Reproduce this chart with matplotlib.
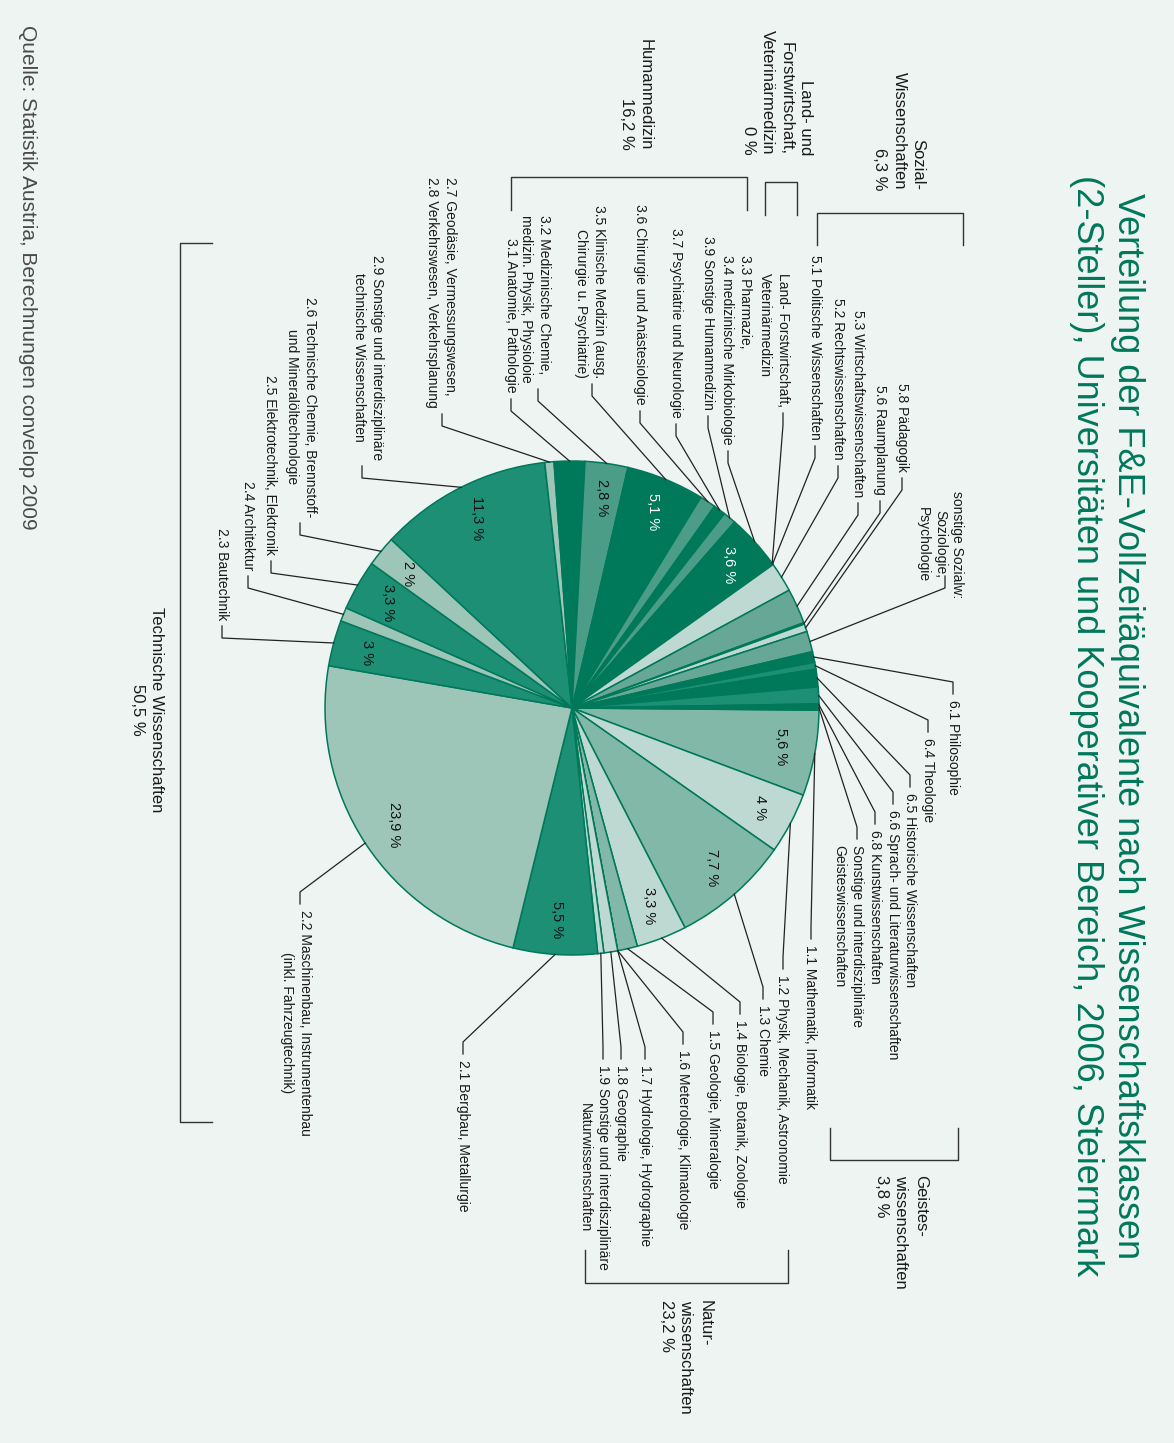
import numpy as np
import matplotlib.pyplot as plt

plt.rcParams['font.family'] = ['Liberation Sans', 'DejaVu Sans']

# --- Daten: Anteile der Wissenschaftsklassen (2-Steller) in %, im Uhrzeigersinn ab 1.1 ---
klassen = ["1.1", "1.2", "1.3", "1.4", "1.5", "1.6", "1.7", "1.8", "1.9",
           "2.1", "2.2", "2.3", "2.4", "2.5", "2.6", "2.9", "2.7/2.8",
           "3.1", "3.2", "3.5", "3.6", "3.7", "3.9", "3.3/3.4",
           "4",
           "5.1", "5.2", "5.3", "5.6", "5.8", "5.x",
           "6.1", "6.4", "6.5", "6.6", "6.8", "6.x"]
anteile = [5.6, 4.0, 7.7, 3.3, 1.3, 0.0, 0.0, 0.9, 0.4,
           5.5, 23.9, 3.0, 0.9, 3.3, 2.0, 11.3, 0.6,
           2.0, 2.8, 5.1, 1.05, 0.8, 0.85, 3.6,
           0.0,
           0.1, 1.95, 2.3, 0.1, 0.5, 1.35,
           0.7, 0.45, 1.15, 1.1, 0.1, 0.3]

# Klassen mit Prozentangabe im Segment
mit_prozent = ["1.1", "1.2", "1.3", "1.4", "2.1", "2.2", "2.3", "2.5", "2.6",
               "2.9", "3.2", "3.5", "3.3/3.4"]

# Hauptgruppen (1-Steller)
gruppen = ["Sozial-\nWissenschaften", "Land- und\nForstwirtschaft,\nVeterinärmedizin",
           "Humanmedizin", "Technische Wissenschaften", "Geistes-\nwissenschaften",
           "Natur-\nwissenschaften"]
gruppen_anteil = [6.3, 0, 16.2, 50.5, 3.8, 23.2]

# Beschriftungen der Klassen
beschriftung = {
    "1.1": "1.1 Mathematik, Informatik",
    "1.2": "1.2 Physik, Mechanik, Astronomie",
    "1.3": "1.3 Chemie",
    "1.4": "1.4 Biologie, Botanik, Zoologie",
    "1.5": "1.5 Geologie, Mineralogie",
    "1.6": "1.6 Meterologie, Klimatologie",
    "1.7": "1.7 Hydrologie, Hydrographie",
    "1.8": "1.8 Geographie",
    "1.9": "1.9 Sonstige und interdisziplinäre\nNaturwissenschaften",
    "2.1": "2.1 Bergbau, Metallurgie",
    "2.2": "2.2 Maschinenbau, Instrumentenbau\n(inkl. Fahrzeugtechnik)",
    "2.3": "2.3 Bautechnik",
    "2.4": "2.4 Architektur",
    "2.5": "2.5 Elektrotechnik, Elektronik",
    "2.6": "2.6 Technische Chemie, Brennstoff-\nund Mineralöltechnologie",
    "2.9": "2.9 Sonstige und interdisziplinäre\ntechnische Wissenschaften",
    "2.7/2.8": "2.7 Geodäsie, Vermessungswesen,\n2.8 Verkehrswesen, Verkehrsplanung",
    "3.1": "3.1 Anatomie, Pathologie",
    "3.2": "3.2 Medizinische Chemie,\nmedizin. Physik, Physioloie",
    "3.5": "3.5 Klinische Medizin (ausg.\nChirurgie u. Psychiatrie)",
    "3.6": "3.6 Chirurgie und Anästesiologie",
    "3.7": "3.7 Psychiatrie und Neurologie",
    "3.9": "3.9 Sonstige Humanmedizin",
    "3.3/3.4": "3.3 Pharmazie,\n3.4 medizinische Mirkobiologie",
    "4": "Land- Forstwirtschaft,\nVeterinärmedizin",
    "5.1": "5.1 Politische Wissenschaften",
    "5.2": "5.2 Rechtswissenschaften",
    "5.3": "5.3 Wirtschaftswissenschaften",
    "5.6": "5.6 Raumplanung",
    "5.8": "5.8 Pädagogik",
    "5.x": "sonstige Sozialw:\nSoziologie,\nPsychologie",
    "6.1": "6.1 Philosophie",
    "6.4": "6.4 Theologie",
    "6.5": "6.5 Historische Wissenschaften",
    "6.6": "6.6 Sprach- und Literaturwissenschaften",
    "6.8": "6.8 Kunstwissenschaften",
    "6.x": "Sonstige und interdisziplinäre\nGeisteswissenschaften",
}

# --- Farben ---
DUNKEL = "#00795b"
MITTEL_D = "#1c8f74"
MITTEL = "#4b9d87"
MITTEL_H = "#66a895"
HELL = "#9dc5b8"
HELL_B = "#82b8a8"
SEHR_HELL = "#bdd9d1"
farben = [HELL_B, SEHR_HELL, HELL_B, SEHR_HELL, HELL_B, SEHR_HELL, SEHR_HELL, SEHR_HELL, SEHR_HELL,
          MITTEL_D, HELL, MITTEL_D, HELL, MITTEL_D, HELL, MITTEL_D, HELL,
          DUNKEL, MITTEL, DUNKEL, MITTEL, DUNKEL, MITTEL, DUNKEL,
          DUNKEL,
          SEHR_HELL, SEHR_HELL, MITTEL_H, MITTEL_H, SEHR_HELL, MITTEL_H,
          DUNKEL, MITTEL_D, DUNKEL, MITTEL_D, MITTEL_D, DUNKEL]

GRUEN = "#00785a"
BG = "#edf4f2"
LINIE = "#222222"

W, H = 1174, 1443
CX, CY, R = 572, 708, 247

fig = plt.figure(figsize=(W / 100, H / 100), dpi=100, facecolor=BG)
ax = fig.add_axes([0, 0, 1, 1])
ax.set_facecolor(BG)

wedges, _ = ax.pie(anteile, colors=farben, startangle=0.5, counterclock=True,
                   center=(CX, CY), radius=R,
                   wedgeprops=dict(edgecolor=GRUEN, linewidth=1.1))
ax.set_xlim(0, W)
ax.set_ylim(H, 0)
ax.set_aspect("auto")
ax.axis("off")


def punkt(k, r):
    w = wedges[klassen.index(k)]
    t = np.deg2rad((w.theta1 + w.theta2) / 2)
    return CX + r * np.cos(t), CY + r * np.sin(t)


# Prozentangaben in den Segmenten
for k in mit_prozent:
    v = anteile[klassen.index(k)]
    txt = f"{v:g}".replace(".", ",") + " %"
    x, y = punkt(k, R * 0.86)
    col = "white" if farben[klassen.index(k)] == DUNKEL else "#111111"
    ax.text(x, y, txt, rotation=-90, ha="center", va="center", fontsize=10.5, color=col)

# Lage der Beschriftungen: (x Mitte, y Anfang/Ende, Art, Ausrichtung, x Haken, Abstand Haken)
lage = {
    "2.7/2.8": (441, 408, "ende", "left", 442, 6),
    "3.1": (511, 393, "ende", "left", 511, 6),
    "3.2": (535, 383, "ende", "left", 538, 6),
    "3.5": (590, 378, "ende", "right", 592, 6),
    "3.6": (640, 405, "ende", "left", 640, 6),
    "3.7": (676, 418, "ende", "left", 676, 6),
    "3.9": (708, 410, "ende", "left", 708, 6),
    "3.3/3.4": (736, 445, "ende", "left", 728, 6),
    "4": (774, 407, "ende", "left", 783, 6),
    "5.1": (815, 440, "ende", "left", 815, 6),
    "5.2": (838, 460, "ende", "left", 838, 6),
    "5.3": (858, 497, "ende", "left", 858, 6),
    "5.6": (880, 495, "ende", "left", 880, 6),
    "5.8": (902, 472, "ende", "left", 902, 6),
    "5.x": (940, 598, "ende", "center", 945, -22),
    "2.3": (222, 620, "ende", "left", 222, 6),
    "2.4": (248, 570, "ende", "left", 248, 6),
    "2.5": (270, 555, "ende", "left", 271, 6),
    "2.6": (301, 517, "ende", "center", 300, 6),
    "2.9": (368, 460, "ende", "center", 362, 6),
    "6.1": (953, 700, "anfang", "left", 953, 6),
    "6.4": (928, 738, "anfang", "left", 928, 6),
    "6.5": (910, 793, "anfang", "left", 910, 6),
    "6.6": (893, 810, "anfang", "left", 893, 6),
    "6.8": (875, 830, "anfang", "left", 875, 6),
    "6.x": (848, 845, "anfang", "left", 857, 6),
    "1.1": (810, 945, "anfang", "left", 811, 6),
    "1.2": (782, 975, "anfang", "left", 783, 6),
    "1.3": (763, 1005, "anfang", "left", 763, 6),
    "1.4": (740, 1020, "anfang", "left", 740, 6),
    "1.5": (713, 1030, "anfang", "left", 713, 6),
    "1.6": (683, 1050, "anfang", "left", 683, 6),
    "1.7": (645, 1065, "anfang", "left", 645, 6),
    "1.8": (621, 1065, "anfang", "left", 621, 6),
    "1.9": (594, 1065, "anfang", "center", 603, 6),
    "2.1": (463, 1060, "anfang", "left", 463, 6),
    "2.2": (296, 910, "anfang", "center", 300, 6),
}

for k, (x, y, art, ma, hx, d) in lage.items():
    px, py = punkt(k, R)
    if art == "ende":
        ax.text(x, y, beschriftung[k], rotation=-90, ha="center", va="bottom",
                multialignment=ma, fontsize=10, linespacing=1.3, color="#1a1a1a")
        ax.plot([hx, hx, px], [y + d, y + d + 12, py], color=LINIE, lw=0.9)
    else:
        ax.text(x, y, beschriftung[k], rotation=-90, ha="center", va="top",
                multialignment=ma, fontsize=10, linespacing=1.3, color="#1a1a1a")
        ax.plot([px, hx, hx], [py, y - d - 12, y - d], color=LINIE, lw=0.9)

# Gruppen-Beschriftungen
def gtext(i):
    return gruppen[i] + "\n" + f"{gruppen_anteil[i]:g}".replace(".", ",") + " %"

ax.text(899, 190, gtext(0), rotation=-90, ha="center", va="bottom", multialignment="right",
        fontsize=12, linespacing=1.35, color="#1a1a1a")
ax.text(777, 155, gtext(1), rotation=-90, ha="center", va="bottom", multialignment="right",
        fontsize=12, linespacing=1.35, color="#1a1a1a")
ax.text(636, 150, gtext(2), rotation=-90, ha="center", va="bottom", multialignment="right",
        fontsize=12, linespacing=1.35, color="#1a1a1a")
ax.text(147, 710, gtext(3), rotation=-90, ha="center", va="center", multialignment="center",
        fontsize=12, linespacing=1.35, color="#1a1a1a")
ax.text(901, 1175, gtext(4), rotation=-90, ha="center", va="top", multialignment="left",
        fontsize=12, linespacing=1.35, color="#1a1a1a")
ax.text(686, 1300, gtext(5), rotation=-90, ha="center", va="top", multialignment="left",
        fontsize=12, linespacing=1.35, color="#1a1a1a")

# Klammern
kl = dict(color="#333333", lw=1.0)
ax.plot([817, 817, 963, 963], [245, 213, 213, 245], **kl)
ax.plot([765, 765, 797, 797], [215, 182, 182, 215], **kl)
ax.plot([511, 511, 747, 747], [210, 177, 177, 210], **kl)
ax.plot([212, 180, 180, 212], [243, 243, 1122, 1122], **kl)
ax.plot([830, 830, 958, 958], [1128, 1160, 1160, 1128], **kl)
ax.plot([585, 585, 788, 788], [1250, 1283, 1283, 1250], **kl)

# Titel
ax.text(1107, 726, "Verteilung der F&E-Vollzeitäquivalente nach Wissenschaftsklassen\n"
        "(2-Steller), Universitäten und Kooperativer Bereich, 2006, Steiermark",
        rotation=-90, ha="center", va="center", multialignment="center",
        fontsize=26, linespacing=1.2, color=GRUEN)

# Quelle
ax.text(27, 25, "Quelle: Statistik Austria, Berechnungen convelop 2009", rotation=-90,
        ha="center", va="top", fontsize=15, color="#4a4a4a")

fig.savefig("out.png", dpi=100, facecolor=BG)
